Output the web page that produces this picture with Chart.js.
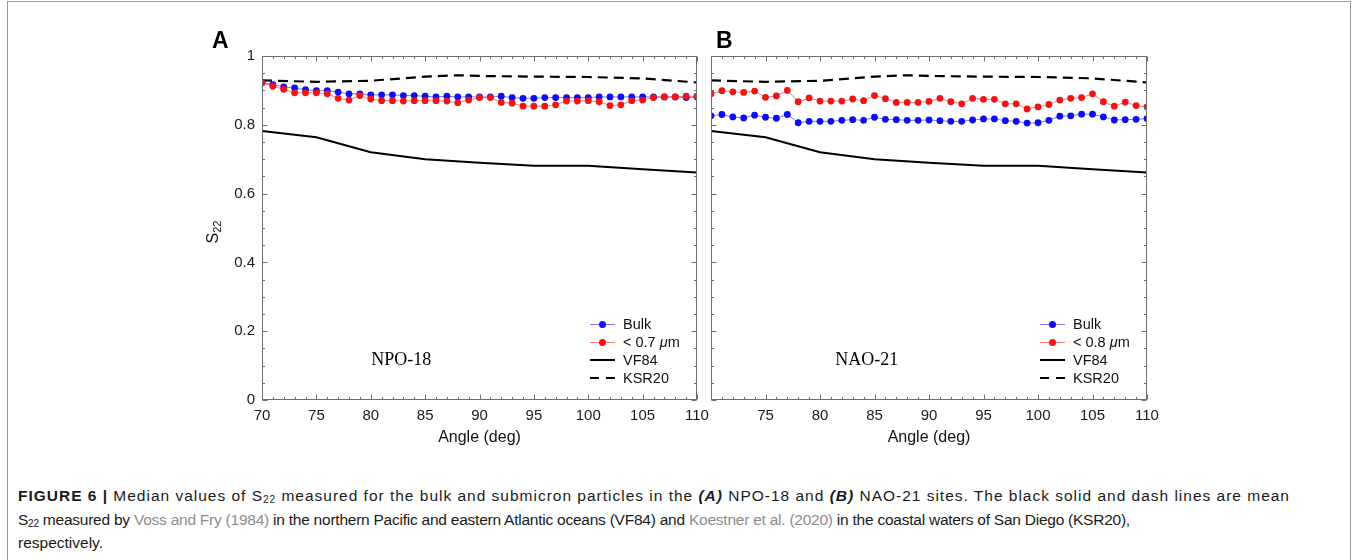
<!DOCTYPE html>
<html><head><meta charset="utf-8">
<script src="https://cdn.jsdelivr.net/npm/chart.js@4.4.0/dist/chart.umd.min.js"></script>
<style>
html,body{margin:0;padding:0;background:#fff;}
body{width:1355px;height:560px;position:relative;overflow:hidden;font-family:"Liberation Sans",Arial,sans-serif;color:#111;}
#frame{position:absolute;left:7px;top:1px;width:1342px;height:620px;border:1px solid #9a9a9a;}
canvas{position:absolute;}
.plbl{position:absolute;font-weight:bold;font-size:23px;color:#000;line-height:1;}
#ylab{position:absolute;left:213px;top:232px;transform:translate(-50%,-50%) rotate(-90deg);font-size:16px;white-space:nowrap;}
#ylab sub{font-size:11px;vertical-align:-3px;}
.legend{position:absolute;font-size:14.5px;color:#111;}
.lrow{position:absolute;left:0;height:18px;width:140px;}
.ltxt{position:absolute;left:34px;top:0;line-height:18px;white-space:nowrap;}
.lline{position:absolute;left:1px;width:25px;top:9px;height:0;}
.ldot{position:absolute;left:10px;top:5.5px;width:7px;height:7px;border-radius:50%;}
.cap{position:absolute;left:18px;white-space:nowrap;font-size:15.5px;line-height:22px;color:#1a1a1a;}
.cap sub{font-size:10px;vertical-align:-2px;line-height:0;}
.ref{color:#8c8c8c;}
</style></head>
<body>
<div id="frame"></div>
<canvas id="cA" width="565" height="420" style="left:150px;top:40px;width:565px;height:420px"></canvas>
<canvas id="cB" width="480" height="420" style="left:690px;top:40px;width:480px;height:420px"></canvas>
<div class="plbl" style="left:212px;top:29px">A</div>
<div class="plbl" style="left:716px;top:29px">B</div>
<div id="ylab">S<sub>22</sub></div>
<div id="legA" class="legend"></div>
<div id="legB" class="legend"></div>
<div id="cap1" class="cap" style="top:485px"><b>FIGURE 6 |</b> Median values of S<sub>22</sub> measured for the bulk and submicron particles in the <b><i>(A)</i></b> NPO-18 and <b><i>(B)</i></b> NAO-21 sites. The black solid and dash lines are mean</div>
<div id="cap2" class="cap" style="top:509px">S<sub>22</sub> measured by <span class="ref">Voss and Fry (1984)</span> in the northern Pacific and eastern Atlantic oceans (VF84) and <span class="ref">Koestner et al. (2020)</span> in the coastal waters of San Diego (KSR20),</div>
<div id="cap3" class="cap" style="top:532px">respectively.</div>
<script>
// ---- data ----
const angles = [70,71,72,73,74,75,76,77,78,79,80,81,82,83,84,85,86,87,88,89,90,91,92,93,94,95,96,97,98,99,100,101,102,103,104,105,106,107,108,109,110];
const bulkA = [0.922,0.917,0.910,0.907,0.902,0.899,0.899,0.895,0.890,0.890,
               0.887,0.887,0.887,0.885,0.885,0.883,0.881,0.883,0.881,0.881,
               0.881,0.881,0.883,0.879,0.877,0.877,0.879,0.879,0.879,0.879,
               0.879,0.881,0.881,0.881,0.881,0.881,0.881,0.881,0.881,0.879,0.881];
const subA  = [0.922,0.912,0.903,0.893,0.893,0.893,0.890,0.877,0.872,0.885,
               0.875,0.870,0.870,0.869,0.870,0.870,0.870,0.869,0.864,0.872,
               0.879,0.879,0.865,0.863,0.854,0.854,0.854,0.858,0.869,0.869,
               0.870,0.867,0.856,0.858,0.870,0.872,0.879,0.881,0.881,0.883,0.883];
const bulkB = [0.826,0.830,0.823,0.820,0.828,0.822,0.819,0.830,0.806,0.810,
               0.810,0.810,0.813,0.815,0.813,0.822,0.816,0.815,0.813,0.813,
               0.814,0.812,0.810,0.810,0.814,0.817,0.817,0.812,0.810,0.805,
               0.806,0.813,0.825,0.826,0.831,0.831,0.823,0.814,0.815,0.816,0.818];
const subB  = [0.890,0.899,0.896,0.894,0.898,0.880,0.884,0.900,0.867,0.878,
               0.869,0.869,0.869,0.875,0.870,0.885,0.876,0.865,0.865,0.865,
               0.868,0.877,0.867,0.861,0.877,0.874,0.874,0.861,0.861,0.846,
               0.852,0.859,0.872,0.877,0.879,0.890,0.867,0.854,0.866,0.856,0.852];
const vfAngles = [70,75,80,85,90,95,100,105,110];
const vf84     = [0.782,0.764,0.720,0.700,0.690,0.681,0.681,0.671,0.661];
const ksrAngles = [70,75,80,85,88,90,95,100,105,110];
const ksr20     = [0.929,0.925,0.928,0.940,0.944,0.942,0.940,0.939,0.935,0.923];
const xTicks = [70,75,80,85,90,95,100,105,110];
const yTicks = [0,0.2,0.4,0.6,0.8,1];
const siteA = "NPO-18", siteB = "NAO-21";
const subLabelA = "< 0.7 μm", subLabelB = "< 0.8 μm";

const BLUE = "#0d0df2", RED = "#f21414";
const pts = (xs, ys) => xs.map((x, i) => ({x, y: ys[i]}));

const boxTicks = {
  id: 'boxTicks',
  afterDatasetsDraw(chart, args, opts) {
    const {ctx, chartArea: a, scales: {x, y}} = chart;
    ctx.save();
    ctx.strokeStyle = '#6e6e6e'; ctx.lineWidth = 1;
    const L = Math.round(a.left) + 0.5, R = Math.round(a.right) - 0.5, T = Math.round(a.top) + 0.5, B = Math.round(a.bottom) - 0.5;
    ctx.strokeRect(L, T, R - L, B - T);
    ctx.beginPath();
    for (let v = 70; v <= 110; v++) {
      const px = Math.round(x.getPixelForValue(v)) + 0.5;
      const len = v % 5 === 0 ? 5 : 2.5;
      ctx.moveTo(px, B); ctx.lineTo(px, B - len);
      ctx.moveTo(px, T); ctx.lineTo(px, T + len);
    }
    for (let k = 0; k <= 20; k++) {
      const py = Math.round(y.getPixelForValue(k * 0.05)) + 0.5;
      const len = k % 4 === 0 ? 5 : 2.5;
      ctx.moveTo(L, py); ctx.lineTo(L + len, py);
      ctx.moveTo(R, py); ctx.lineTo(R - len, py);
    }
    ctx.stroke();
    ctx.fillStyle = '#000';
    ctx.font = '18px "Liberation Serif", "Times New Roman", serif';
    ctx.textAlign = 'center'; ctx.textBaseline = 'middle';
    ctx.fillText(opts.text, x.getPixelForValue(opts.tx), y.getPixelForValue(opts.ty));
    ctx.restore();
  }
};

function makeChart(id, cfg) {
  const datasets = [
    {label: cfg.subLabel, data: pts(angles, cfg.sub), borderColor: 'rgba(242,20,20,0.55)', backgroundColor: RED,
     pointBackgroundColor: RED, pointBorderWidth: 0, pointRadius: 3.4, borderWidth: 1, order: 0, key: 'sub'},
    {label: 'Bulk', data: pts(angles, cfg.bulk), borderColor: 'rgba(13,13,242,0.55)', backgroundColor: BLUE,
     pointBackgroundColor: BLUE, pointBorderWidth: 0, pointRadius: 3.4, borderWidth: 1, order: 1, key: 'bulk'},
    {label: 'VF84', data: pts(vfAngles, vf84), borderColor: '#000', borderWidth: 2, pointRadius: 0, order: 2, key: 'vf'},
    {label: 'KSR20', data: pts(ksrAngles, ksr20), borderColor: '#000', borderWidth: 2.2, borderDash: [10, 6], pointRadius: 0, order: 2, key: 'ksr'}
  ];
  return new Chart(document.getElementById(id), {
    type: 'line',
    data: {datasets},
    plugins: [boxTicks],
    options: {
      responsive: false, animation: false, devicePixelRatio: 1,
      layout: {padding: {left: 0, top: 16, right: cfg.padRight, bottom: 0}},
      plugins: {legend: {display: false}, tooltip: {enabled: false},
        boxTicks: {text: cfg.site, tx: cfg.tx, ty: 0.115}},
      elements: {line: {tension: 0}},
      scales: {
        x: {type: 'linear', min: 70, max: 110,
          afterBuildTicks: s => { s.ticks = xTicks.map(v => ({value: v})); },
          afterFit: s => { s.height = 60; s.paddingLeft = 0; s.paddingRight = 0; },
          grid: {display: false, drawTicks: false, tickLength: 0}, border: {display: false},
          ticks: {color: '#1a1a1a', font: {family: '"Liberation Sans", Arial', size: 15}, padding: 7, maxRotation: 0, autoSkip: false,
            callback: v => (cfg.hideFirst && v === 70) ? '' : String(v)},
          title: {display: true, text: 'Angle (deg)', color: '#111', font: {family: '"Liberation Sans", Arial', size: 16}, padding: {top: 0, bottom: 13}}
        },
        y: {type: 'linear', min: 0, max: 1,
          afterBuildTicks: s => { s.ticks = yTicks.map(v => ({value: v})); },
          afterFit: s => { s.width = cfg.yWidth; s.paddingTop = 0; s.paddingBottom = 0; },
          grid: {display: false, drawTicks: false, tickLength: 0}, border: {display: false},
          ticks: {display: cfg.showY, color: '#1a1a1a', font: {family: '"Liberation Sans", Arial', size: 15}, padding: 7,
            callback: v => String(Math.round(v * 10) / 10)}
        }
      }
    }
  });
}

const chA = makeChart('cA', {bulk: bulkA, sub: subA, subLabel: subLabelA, site: siteA, tx: 82.8, showY: true, yWidth: 112, padRight: 18, hideFirst: false});
const chB = makeChart('cB', {bulk: bulkB, sub: subB, subLabel: subLabelB, site: siteB, tx: 84.3, showY: false, yWidth: 21, padRight: 23, hideFirst: true});

function buildLegend(chart, el, canvasLeft, canvasTop) {
  const a = chart.chartArea;
  const right = canvasLeft + a.right, bottom = canvasTop + a.bottom;
  el.style.left = (right - 108) + 'px';
  el.style.top = (bottom - 85) + 'px';
  const order = ['bulk', 'sub', 'vf', 'ksr'];
  order.forEach((k, i) => {
    const ds = chart.data.datasets.find(d => d.key === k);
    const row = document.createElement('div');
    row.className = 'lrow'; row.style.top = (i * 18) + 'px';
    const line = document.createElement('div'); line.className = 'lline';
    if (k === 'bulk' || k === 'sub') {
      line.style.borderTop = '1px solid ' + ds.borderColor;
      const dot = document.createElement('div'); dot.className = 'ldot'; dot.style.background = ds.pointBackgroundColor;
      row.appendChild(line); row.appendChild(dot);
    } else if (k === 'vf') {
      line.style.borderTop = '2px solid #000'; line.style.top = '8px'; row.appendChild(line);
    } else {
      line.style.borderTop = '2px dashed #000'; line.style.top = '8px';
      line.style.borderImage = 'repeating-linear-gradient(90deg,#000 0 9px,transparent 9px 16px) 1';
      row.appendChild(line);
    }
    const t = document.createElement('div'); t.className = 'ltxt';
    if (k === 'sub') {
      const m = ds.label.match(/^(.*)μ(.*)$/);
      t.innerHTML = m[1].replace('<', '&lt;') + '<i>μ</i>' + m[2];
    } else t.textContent = ds.label;
    row.appendChild(t);
    el.appendChild(row);
  });
}
buildLegend(chA, document.getElementById('legA'), 150, 40);
buildLegend(chB, document.getElementById('legB'), 690, 40);

// fit caption lines to the widths seen in the reference
(function () {
  const fit = (id, target) => {
    const el = document.getElementById(id);
    const w = el.getBoundingClientRect().width;
    el.style.letterSpacing = ((target - w) / el.textContent.length).toFixed(3) + 'px';
  };
  fit('cap1', 1272);
  fit('cap2', 1112);
})();
</script>
</body></html>
